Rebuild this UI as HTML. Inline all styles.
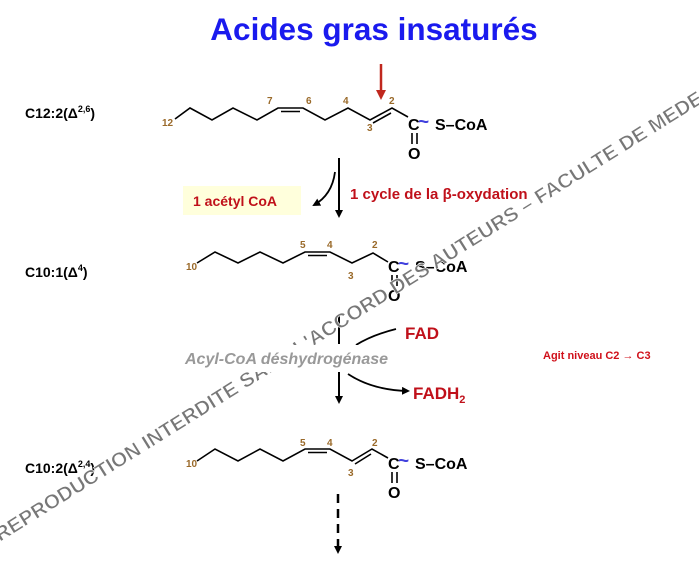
<!DOCTYPE html>
<html><head><meta charset="utf-8"><style>
html,body{margin:0;padding:0;background:#fff;}
svg{display:block;font-family:"Liberation Sans",Arial,sans-serif;}
.ch{fill:none;stroke:#000;stroke-width:1.6;}
.n{fill:#9a6a2a;font-size:10px;font-weight:bold;}
.b{font-weight:bold;font-size:16px;fill:#000;}
.lab{font-weight:bold;font-size:14px;fill:#000;}
.t{font-size:19px;font-weight:bold;fill:#4040dd;}
</style></head><body>
<svg width="699" height="573" viewBox="0 0 699 573">
<defs>
<marker id="ah" markerWidth="8" markerHeight="8" refX="6" refY="4" orient="auto" markerUnits="userSpaceOnUse"><path d="M0,0 L8,4 L0,8 z" fill="#000"/></marker>
</defs>
<text x="374" y="40" text-anchor="middle" font-size="31.5" font-weight="bold" fill="#1a1aee">Acides gras insaturés</text>

<!-- row1 -->
<text x="25" y="118" class="lab">C12:2(Δ<tspan font-size="9" dy="-6">2,6</tspan><tspan dy="6">)</tspan></text>
<polyline class="ch" points="175,119 190,108 212,120 233,108 257,120 278,108 303,108 325,120 348,108 370,120 392,108 408,117"/>
<line class="ch" x1="281" y1="111.5" x2="300" y2="111.5"/>
<line class="ch" x1="373" y1="123" x2="391" y2="113"/>
<text x="162" y="126" class="n">12</text><text x="267" y="104" class="n">7</text><text x="306" y="104" class="n">6</text><text x="343" y="104" class="n">4</text><text x="389" y="104" class="n">2</text><text x="367" y="131" class="n">3</text>
<text x="408" y="130" class="b">C</text>
<text x="418" y="128" class="t">~</text>
<text x="435" y="130" class="b">S–CoA</text>
<line class="ch" x1="412" y1="133" x2="412" y2="144"/><line class="ch" x1="417" y1="133" x2="417" y2="144"/>
<text x="408" y="159" class="b">O</text>
<line x1="381" y1="64" x2="381" y2="92" stroke="#c0281e" stroke-width="2.5"/>
<path d="M376,90 L386,90 L381,100 z" fill="#c0281e"/>

<!-- arrow 1 -->
<line x1="339" y1="158" x2="339" y2="216" stroke="#000" stroke-width="2" marker-end="url(#ah)"/>
<path d="M335,172 Q332,195 314,205" fill="none" stroke="#000" stroke-width="1.8" marker-end="url(#ah)"/>
<rect x="183" y="186" width="118" height="29" fill="#ffffdc"/>
<text x="193" y="206" font-size="14" font-weight="bold" fill="#c0101a">1 acétyl CoA</text>
<text x="350" y="199" font-size="15" font-weight="bold" fill="#c0101a">1 cycle de la β-oxydation</text>

<!-- row2 -->
<text x="25" y="277" class="lab">C10:1(Δ<tspan font-size="9" dy="-6">4</tspan><tspan dy="6">)</tspan></text>
<polyline class="ch" points="197,263 215,252 238,263 260,252 283,263 305,252 330,252 352,263 373,253 388,262"/>
<line class="ch" x1="308" y1="255.5" x2="327" y2="255.5"/>
<text x="186" y="270" class="n">10</text><text x="300" y="248" class="n">5</text><text x="327" y="248" class="n">4</text><text x="372" y="248" class="n">2</text><text x="348" y="279" class="n">3</text>
<text x="388" y="272" class="b">C</text>
<text x="398" y="270" class="t">~</text>
<text x="415" y="272" class="b">S–CoA</text>
<line class="ch" x1="392" y1="275" x2="392" y2="286"/><line class="ch" x1="397" y1="275" x2="397" y2="286"/>
<text x="388" y="301" class="b">O</text>

<!-- arrow 2 -->
<line x1="339" y1="314" x2="339" y2="344" stroke="#000" stroke-width="2"/>
<line x1="339" y1="372" x2="339" y2="402" stroke="#000" stroke-width="2" marker-end="url(#ah)"/>
<path d="M356,345 Q372,335 396,329" fill="none" stroke="#000" stroke-width="1.8"/>
<text x="405" y="339" font-size="17" font-weight="bold" fill="#c0101a">FAD</text>
<path d="M348,374 Q372,390 408,391" fill="none" stroke="#000" stroke-width="1.8" marker-end="url(#ah)"/>
<text x="413" y="399" font-size="17" font-weight="bold" fill="#c0101a">FADH<tspan font-size="11" dy="4">2</tspan></text>
<text x="543" y="359" font-size="11" font-weight="bold" fill="#d0101a">Agit niveau C2 → C3</text>

<!-- row3 -->
<text x="25" y="473" class="lab">C10:2(Δ<tspan font-size="9" dy="-6">2,4</tspan><tspan dy="6">)</tspan></text>
<polyline class="ch" points="197,461 215,449 238,461 260,449 283,461 305,449 330,449 352,461 372,449 388,458"/>
<line class="ch" x1="308" y1="452.5" x2="327" y2="452.5"/>
<line class="ch" x1="355" y1="464" x2="371" y2="454"/>
<text x="186" y="467" class="n">10</text><text x="300" y="446" class="n">5</text><text x="327" y="446" class="n">4</text><text x="372" y="446" class="n">2</text><text x="348" y="476" class="n">3</text>
<text x="388" y="469" class="b">C</text>
<text x="398" y="467" class="t">~</text>
<text x="415" y="469" class="b">S–CoA</text>
<line class="ch" x1="392" y1="472" x2="392" y2="483"/><line class="ch" x1="397" y1="472" x2="397" y2="483"/>
<text x="388" y="498" class="b">O</text>

<line x1="338" y1="494" x2="338" y2="552" stroke="#000" stroke-width="2.5" stroke-dasharray="9,6" marker-end="url(#ah)"/>

<!-- watermark -->
<text transform="translate(0,542) rotate(-32)" font-size="20" font-weight="bold" fill="#777" stroke="#fff" stroke-width="0.6" textLength="880" lengthAdjust="spacingAndGlyphs">REPRODUCTION INTERDITE SANS L'ACCORD DES AUTEURS – FACULTE DE MEDECINE</text>

<rect x="183" y="345" width="236" height="27" fill="#fff"/>
<text x="185" y="364" font-size="16" font-weight="bold" font-style="italic" fill="#999">Acyl-CoA déshydrogénase</text>
</svg>
</body></html>
